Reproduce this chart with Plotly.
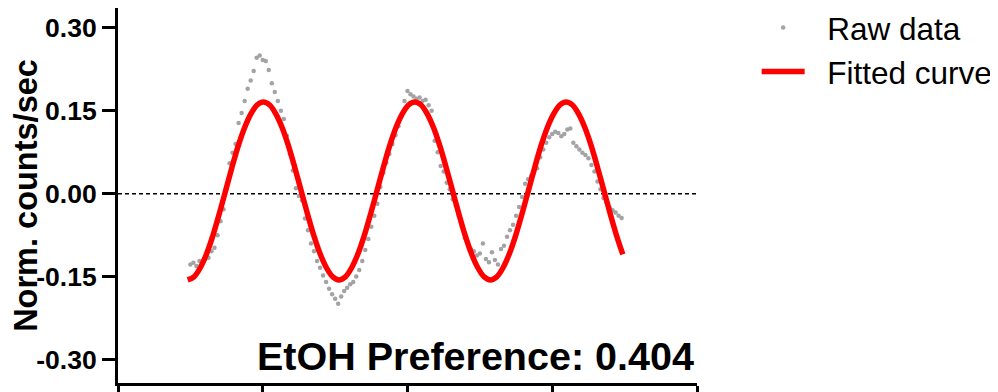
import plotly.graph_objects as go

# ---- data ----
raw_hours = [12.0, 12.5, 13.0, 13.5, 14.0, 14.5, 15.0, 15.5, 16.0, 16.5, 17.0, 17.5,
             18.0, 18.5, 19.0, 19.5, 20.0, 20.5, 21.0, 21.5, 22.0, 22.5, 23.0, 23.5,
             24.0, 24.5, 25.0, 25.5, 26.0, 26.5, 27.0, 27.5, 28.0, 28.5, 29.0, 29.5,
             30.0, 30.5, 31.0, 31.5, 32.0, 32.5, 33.0, 33.5, 34.0, 34.5, 35.0, 35.5,
             36.0, 36.5, 37.0, 37.5, 38.0, 38.5, 39.0, 39.5, 40.0, 40.5, 41.0, 41.5,
             42.0, 42.5, 43.0, 43.5, 44.0, 44.5, 45.0, 45.5, 46.0, 46.5, 47.0, 47.5,
             48.0, 48.5, 49.0, 49.5, 50.0, 50.5, 51.0, 51.5, 52.0, 52.5, 53.0, 53.5,
             54.0, 54.5, 55.0, 55.5, 56.0, 56.5, 57.0, 57.5, 58.0, 58.5, 59.0, 59.5,
             60.0, 60.5, 61.0, 61.5, 62.0, 62.5, 63.0, 63.5, 64.0, 64.5, 65.0, 65.5,
             66.0, 66.5, 67.0, 67.5, 68.0, 68.5, 69.0, 69.5, 70.0, 70.5, 71.0, 71.5,
             72.0, 72.5, 73.0, 73.5, 74.0, 74.5, 75.0, 75.5, 76.0, 76.5, 77.0, 77.5,
             78.0, 78.5, 79.0, 79.5, 80.0, 80.5, 81.0, 81.5, 82.0, 82.5, 83.0, 83.5]
raw_counts = [-0.128, -0.125, -0.131, -0.122, -0.126, -0.118, -0.116, -0.104, -0.098, -0.075, -0.050, -0.028,
              0.010, 0.055, 0.074, 0.090, 0.128, 0.146, 0.168, 0.190, 0.205, 0.222, 0.246, 0.250,
              0.242, 0.240, 0.224, 0.200, 0.184, 0.168, 0.150, 0.135, 0.105, 0.072, 0.042, 0.010,
              -0.004, -0.012, -0.045, -0.066, -0.090, -0.104, -0.122, -0.134, -0.148, -0.160, -0.172, -0.182,
              -0.190, -0.199, -0.186, -0.176, -0.170, -0.164, -0.160, -0.150, -0.138, -0.122, -0.102, -0.082,
              -0.060, -0.040, -0.018, 0.012, 0.038, 0.056, 0.072, 0.090, 0.106, 0.122, 0.140, 0.168,
              0.186, 0.180, 0.176, 0.172, 0.174, 0.168, 0.170, 0.160, 0.150, 0.096, 0.075, 0.050,
              0.040, 0.020, 0.008, -0.010, -0.022, -0.040, -0.060, -0.080, -0.088, -0.100, -0.104, -0.112,
              -0.108, -0.090, -0.118, -0.124, -0.106, -0.120, -0.128, -0.100, -0.094, -0.078, -0.066, -0.056,
              -0.040, -0.024, -0.006, 0.018, 0.026, 0.032, 0.040, 0.046, 0.066, 0.080, 0.092, 0.102,
              0.108, 0.112, 0.110, 0.104, 0.108, 0.116, 0.118, 0.092, 0.086, 0.080, 0.074, 0.070,
              0.064, 0.052, 0.040, 0.022, 0.008, -0.008, -0.016, -0.025, -0.030, -0.034, -0.040, -0.044]

fit_hours = [11.55, 12.60, 13.64, 14.69, 15.73, 16.78, 17.83, 18.87, 19.92, 20.97,
             22.01, 23.06, 24.10, 25.15, 26.19, 27.24, 28.28, 29.33, 30.38, 31.42,
             32.47, 33.51, 34.56, 35.61, 36.65, 37.70, 38.74, 39.79, 40.83, 41.88,
             42.93, 43.97, 45.02, 46.06, 47.11, 48.16, 49.20, 50.25, 51.29, 52.34,
             53.38, 54.43, 55.48, 56.52, 57.57, 58.61, 59.66, 60.71, 61.75, 62.80,
             63.84, 64.89, 65.93, 66.98, 68.03, 69.07, 70.12, 71.16, 72.21, 73.26,
             74.30, 75.35, 76.39, 77.44, 78.48, 79.53, 80.58, 81.62, 82.67, 83.70]
fit_counts = [-0.156, -0.1505, -0.134, -0.1088, -0.076, -0.0367, 0.005, 0.0467, 0.086, 0.1188,
              0.144, 0.1605, 0.166, 0.1605, 0.144, 0.1188, 0.086, 0.0467, 0.005, -0.0367,
              -0.076, -0.1088, -0.134, -0.1505, -0.156, -0.1505, -0.134, -0.1088, -0.076, -0.0367,
              0.005, 0.0467, 0.086, 0.1188, 0.144, 0.1605, 0.166, 0.1605, 0.144, 0.1188,
              0.086, 0.0467, 0.005, -0.0367, -0.076, -0.1088, -0.134, -0.1505, -0.156, -0.1505,
              -0.134, -0.1088, -0.076, -0.0367, 0.005, 0.0467, 0.086, 0.1188, 0.144, 0.1605,
              0.166, 0.1605, 0.144, 0.1188, 0.086, 0.0467, 0.005, -0.0367, -0.076, -0.110]

x_ticks = [0, 24, 48, 72, 96]
y_ticks = [-0.30, -0.15, 0.00, 0.15, 0.30]
y_tick_labels = ["-0.30", "-0.15", "0.00", "0.15", "0.30"]
preference_label = "EtOH Preference: 0.404"

FONT = "Liberation Sans, Arial, Helvetica, sans-serif"

fig = go.Figure()
fig.add_trace(go.Scatter(
    x=raw_hours, y=raw_counts, mode="markers", name="\u00a0\u00a0Raw data",
    marker=dict(color="#a3a3a6", size=4.5, line=dict(width=0)),
))
fig.add_trace(go.Scatter(
    x=fit_hours, y=fit_counts, mode="lines", name="\u00a0\u00a0Fitted curve",
    line=dict(color="#ff0000", width=5.5, shape="spline", smoothing=0.8),
))

fig.add_shape(type="line", xref="x domain", yref="y", x0=0, x1=1, y0=0, y1=0,
              line=dict(color="black", width=1.5, dash="4px,3px"), layer="below")

fig.add_annotation(text="<b>" + preference_label + "</b>", xref="paper", yref="paper",
                   x=0.998, y=0.072, xanchor="right", yanchor="middle", showarrow=False,
                   font=dict(family=FONT, size=39.5, color="black"))

fig.update_layout(
    width=990, height=384,
    margin=dict(l=110, r=301, t=0, b=9, autoexpand=False),
    paper_bgcolor="white", plot_bgcolor="white",
    font=dict(family=FONT, color="black"),
    showlegend=True,
    legend=dict(x=1.103, y=1.02, xanchor="left", yanchor="top",
                font=dict(family=FONT, size=31.5, color="black"),
                itemwidth=43, tracegroupgap=0, bgcolor="rgba(0,0,0,0)"),
    xaxis=dict(range=[0, 96], tickvals=x_ticks, showticklabels=False, automargin=False,
               ticks="outside", ticklen=12, tickwidth=3, tickcolor="black",
               showline=True, linewidth=3, linecolor="black", showgrid=False, zeroline=False),
    yaxis=dict(range=[-0.3426, 0.3361], tickvals=y_ticks, ticktext=y_tick_labels, automargin=False,
               ticks="outside", ticklen=13, tickwidth=3, tickcolor="black",
               showline=True, linewidth=3, linecolor="black", showgrid=False, zeroline=False,
               tickfont=dict(family=FONT, size=26.5, color="black", weight="bold"),
               title=dict(text="Norm. counts/sec",
                          font=dict(family=FONT, size=32.5, color="black", weight="bold"),
                          standoff=6)),
)

fig.write_html("out.html")
